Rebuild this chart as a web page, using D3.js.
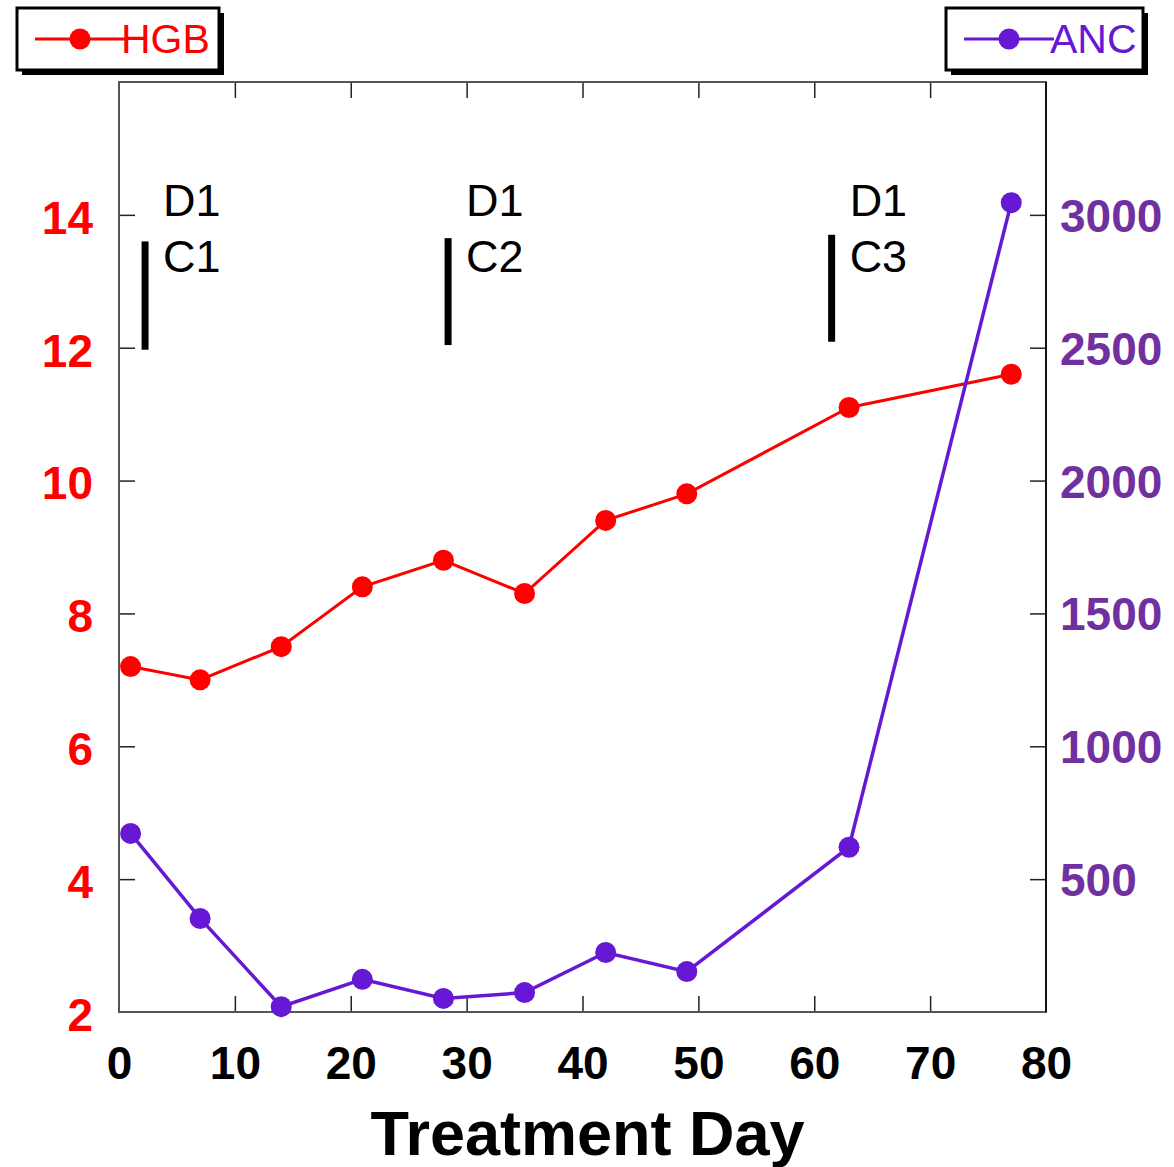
<!DOCTYPE html>
<html>
<head>
<meta charset="utf-8">
<script src="https://cdn.jsdelivr.net/npm/d3@7"></script>
<style>
  body { margin: 0; background: #fff; }
  svg { display: block; font-family: "Liberation Sans", Arial, sans-serif; }
</style>
</head>
<body>
<svg id="chart" width="1174" height="1167"></svg>
<script>
// HGB / ANC by treatment day

var days = [1, 7, 14, 21, 28, 35, 42, 49, 63, 77];
var hgb = [7.2, 7.0, 7.5, 8.4, 8.8, 8.3, 9.4, 9.8, 11.1, 11.6];
var anc = [672, 352, 20, 123, 51, 73, 224, 152, 620, 3046];

var xTicks = [0, 10, 20, 30, 40, 50, 60, 70, 80];
var hgbTicks = [2, 4, 6, 8, 10, 12, 14];
var ancTicks = [500, 1000, 1500, 2000, 2500, 3000];

// cycle start markers: day, top / bottom of the bar (HGB units), label lines
var cycleDays = [2.25, 28.4, 61.5];
var cycleTops = [13.6, 13.65, 13.7];
var cycleBottoms = [11.97, 12.04, 12.09];
var cycleLabels = [["D1", "C1"], ["D1", "C2"], ["D1", "C3"]];

var RED = "#ff0000";
var PURPLE = "#6618d4";
var PURPLE_TEXT = "#7030a0";

var svg = d3.select("#chart");

// note: "top" is taken by window.top, so the plot edges get their own names
var plotLeft = 119, plotRight = 1046, plotTop = 82, plotBottom = 1012;

var x = d3.scaleLinear().domain([0, 80]).range([plotLeft, plotRight]);
var yL = d3.scaleLinear().domain([2, 16]).range([plotBottom, plotTop]);
var yR = d3.scaleLinear().domain([0, 3500]).range([plotBottom, plotTop]);

///////////////////////////////////////////////////////////////////////////////
// Frame and axes (ticks point inward)

var tickLen = 16;

var axisBottom = svg.append("g")
  .attr("transform", "translate(0," + plotBottom + ")")
  .call(d3.axisBottom(x).tickValues(xTicks).tickSize(-tickLen).tickPadding(34).tickFormat(d3.format("d")));

var axisTop = svg.append("g")
  .attr("transform", "translate(0," + plotTop + ")")
  .call(d3.axisTop(x).tickValues(xTicks).tickSize(-tickLen).tickFormat(""));

var axisLeft = svg.append("g")
  .attr("transform", "translate(" + plotLeft + ",0)")
  .call(d3.axisLeft(yL).tickValues(hgbTicks).tickSize(-tickLen).tickPadding(26).tickFormat(d3.format("d")));

var axisRight = svg.append("g")
  .attr("transform", "translate(" + plotRight + ",0)")
  .call(d3.axisRight(yR).tickValues(ancTicks).tickSize(-tickLen).tickPadding(14).tickFormat(d3.format("d")));

[axisBottom, axisTop, axisLeft, axisRight].forEach(function (g) {
  g.select(".domain").remove();
  g.selectAll(".tick line").attr("stroke", "#222").attr("stroke-width", 1.5);
  g.selectAll("text").attr("font-size", 46).attr("font-weight", "bold")
    .attr("font-family", "'Liberation Sans', Arial, sans-serif");
});

// no inner ticks at the corners
axisBottom.selectAll(".tick").filter(function (d) { return d === 0 || d === 80; }).select("line").remove();
axisTop.selectAll(".tick").filter(function (d) { return d === 0 || d === 80; }).select("line").remove();
axisLeft.selectAll(".tick").filter(function (d) { return d === 2; }).select("line").remove();

axisBottom.selectAll("text").attr("fill", "#000");
axisLeft.selectAll("text").attr("fill", RED).attr("dy", "0.4em");
axisRight.selectAll("text").attr("fill", PURPLE_TEXT).attr("dy", "0.36em");

svg.append("rect")
  .attr("x", plotLeft).attr("y", plotTop)
  .attr("width", plotRight - plotLeft).attr("height", plotBottom - plotTop)
  .attr("fill", "none").attr("stroke", "#555").attr("stroke-width", 2);

svg.append("line")
  .attr("x1", plotRight).attr("x2", plotRight).attr("y1", plotTop).attr("y2", plotBottom)
  .attr("stroke", "#111").attr("stroke-width", 2);

svg.append("text")
  .attr("x", (plotLeft + plotRight) / 2 + 5).attr("y", 1155)
  .attr("text-anchor", "middle")
  .attr("font-size", 63).attr("font-weight", "bold")
  .text("Treatment Day");

///////////////////////////////////////////////////////////////////////////////
// Cycle markers

cycleDays.forEach(function (d, i) {
  svg.append("line")
    .attr("x1", x(d)).attr("x2", x(d))
    .attr("y1", yL(cycleTops[i])).attr("y2", yL(cycleBottoms[i]))
    .attr("stroke", "#000").attr("stroke-width", 7);

  var t = svg.append("text")
    .attr("font-size", 45)
    .attr("fill", "#000");
  cycleLabels[i].forEach(function (s, j) {
    t.append("tspan")
      .attr("x", x(d) + 18)
      .attr("y", 216 + j * 56)
      .text(s);
  });
});

///////////////////////////////////////////////////////////////////////////////
// Series

var drawSeries = function (values, y, color, width) {
  var pts = days.map(function (d, i) { return [d, values[i]]; });
  svg.append("path")
    .datum(pts)
    .attr("fill", "none")
    .attr("stroke", color)
    .attr("stroke-width", width)
    .attr("d", d3.line().x(function (p) { return x(p[0]); }).y(function (p) { return y(p[1]); }));
  svg.append("g").selectAll("circle")
    .data(pts)
    .join("circle")
    .attr("cx", function (p) { return x(p[0]); })
    .attr("cy", function (p) { return y(p[1]); })
    .attr("r", 10.5)
    .attr("fill", color);
};

drawSeries(hgb, yL, RED, 3);
drawSeries(anc, yR, PURPLE, 3.5);

///////////////////////////////////////////////////////////////////////////////
// Legends (boxed, drop shadow)

var legend = function (bx, by, bw, bh, color, label) {
  var g = svg.append("g");
  g.append("rect")
    .attr("x", bx + 5).attr("y", by + 5).attr("width", bw).attr("height", bh)
    .attr("fill", "#000");
  g.append("rect")
    .attr("x", bx).attr("y", by).attr("width", bw).attr("height", bh)
    .attr("fill", "#fff").attr("stroke", "#000").attr("stroke-width", 3);
  g.append("line")
    .attr("x1", bx + 18).attr("x2", bx + 108)
    .attr("y1", by + 31).attr("y2", by + 31)
    .attr("stroke", color).attr("stroke-width", 3);
  g.append("circle")
    .attr("cx", bx + 63).attr("cy", by + 31).attr("r", 10.5)
    .attr("fill", color);
  g.append("text")
    .attr("x", bx + 104).attr("y", by + 45)
    .attr("font-size", 41)
    .attr("fill", color)
    .text(label);
};

legend(17, 8, 202, 62, RED, "HGB");
legend(946, 8, 197, 62, PURPLE, "ANC");
</script>
</body>
</html>
